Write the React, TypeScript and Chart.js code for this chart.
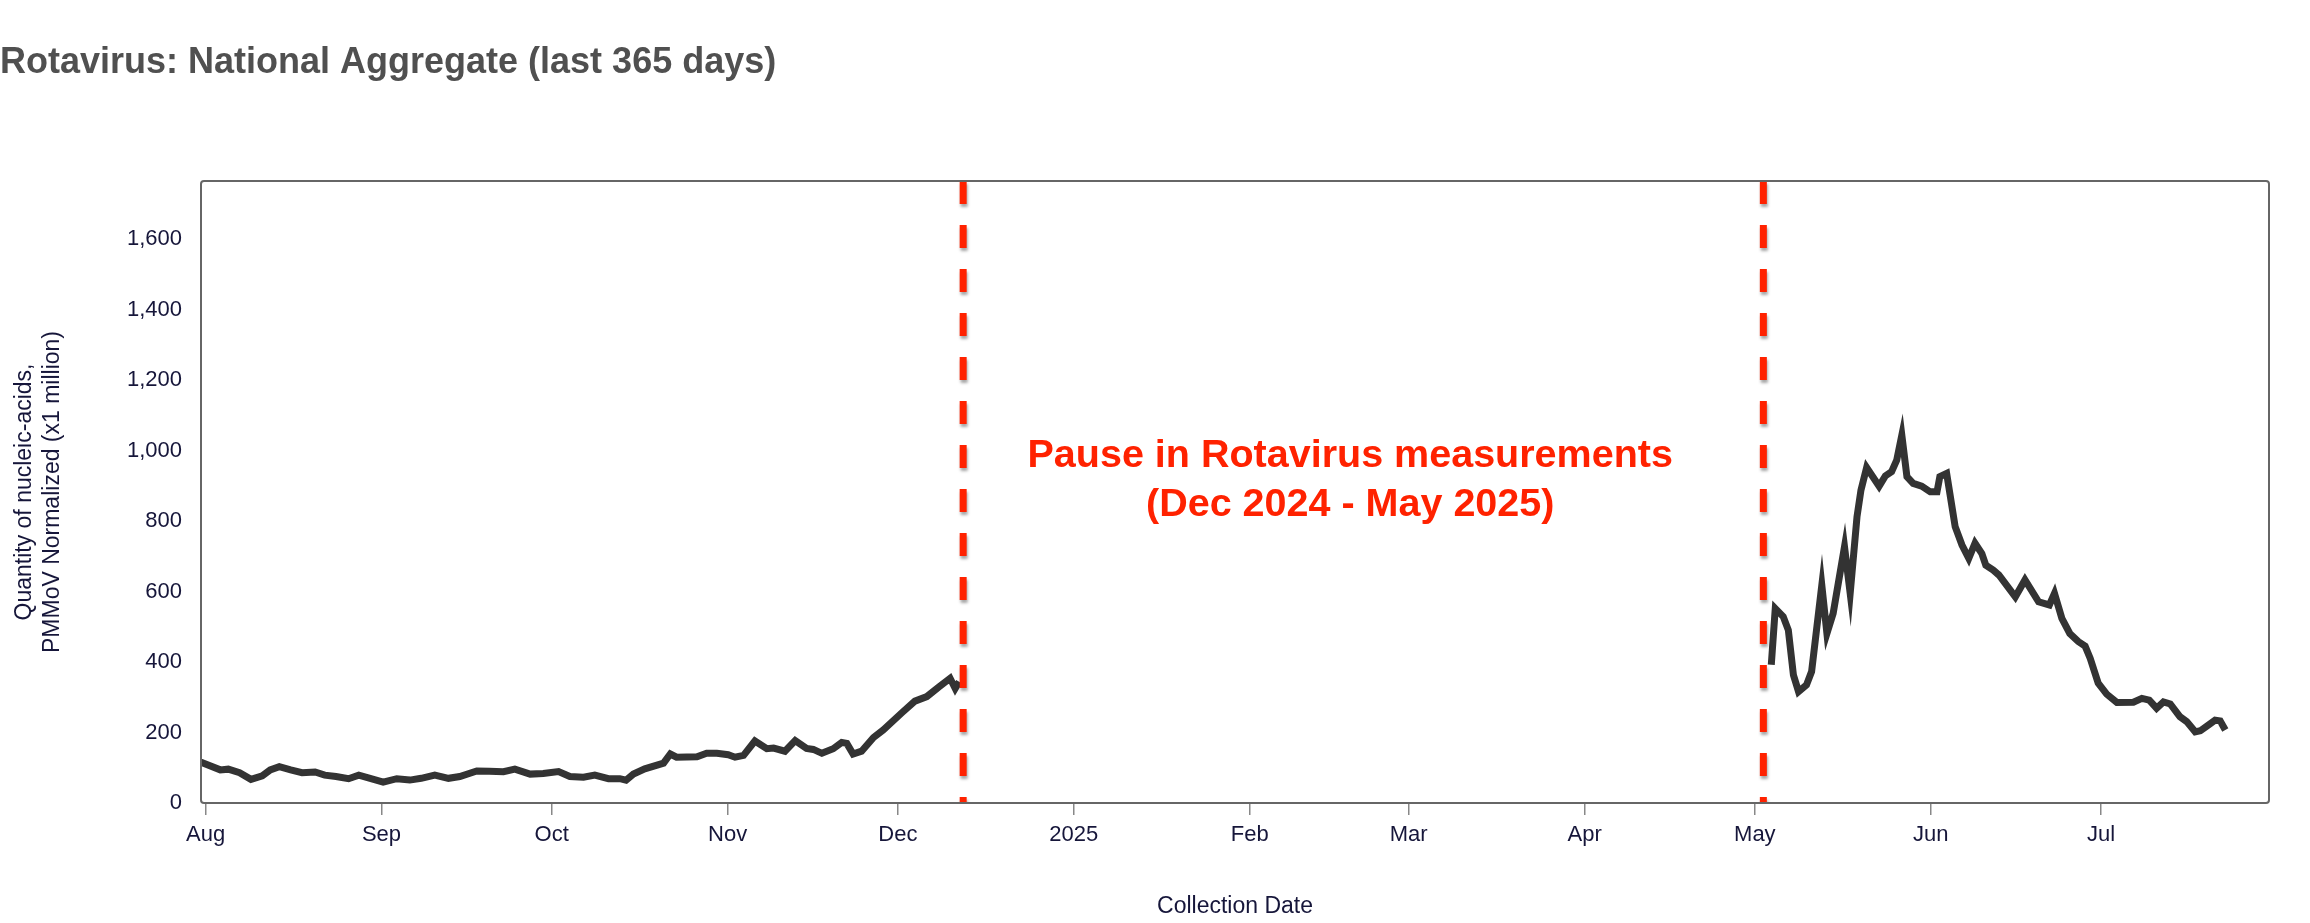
import React, { useEffect, useRef } from 'react';
import { Chart, registerables } from 'chart.js';

Chart.register(...registerables);

// Days counted from 1 Aug 2024 (day 0)
const MONTH_TICK_DAYS = [0, 31, 61, 92, 122, 153, 184, 212, 243, 273, 304, 334];
const MONTH_TICK_LABELS = ['Aug', 'Sep', 'Oct', 'Nov', 'Dec', '2025', 'Feb', 'Mar', 'Apr', 'May', 'Jun', 'Jul'];
const Y_TICKS = [0, 200, 400, 600, 800, 1000, 1200, 1400, 1600];

const X_MIN = -0.8;
const X_MAX = 363.6;
const Y_MAX = 1765;

const SEG1_DAYS = [
  -1, 2.6, 4, 6, 8, 10, 11.4, 13, 15, 17, 19.3, 21, 23, 25.2, 27, 29, 31.3, 33.7, 36, 38,
  40.4, 42.8, 44.8, 47.8, 50, 52.5, 54.5, 57.2, 59.5, 62.2, 64.2, 66.6, 68.6, 71, 73, 74.1,
  75.4, 77.4, 80.7, 81.9, 83, 86.6, 88.3, 90.1, 92.1, 93.3, 94.8, 96.8, 98.9, 100.1, 102.1,
  103.9, 105.9, 107.1, 108.6, 110.6, 112.1, 113, 114.1, 115.6, 117.7, 119.4, 122.7, 125,
  127.1, 129.1, 131.2, 132.1, 132.8,
];
const SEG1_VALUES = [
  117, 94, 96, 86, 67, 77, 94, 103, 94, 86, 88, 79, 75, 69, 79, 70, 59, 69, 65, 70,
  79, 70, 75, 91, 90, 89, 96, 82, 84, 89, 75, 73, 79, 69, 69, 65,
  82, 97, 113, 139, 130, 131, 141, 141, 137, 130, 135, 176, 154, 156, 147,
  177, 155, 152, 141, 154, 172, 169, 139, 147, 186, 207, 256, 289,
  302, 328, 354, 325, 344,
];

const SEG2_DAYS = [
  275.9, 276.6, 278, 278.9, 279.8, 280.7, 282.1, 283, 284.8, 285.7, 286.8, 288.8, 289.8,
  291, 291.7, 292.7, 294.9, 296, 297.1, 298, 298.9, 299.8, 300.9, 302.4, 303.9, 305.1,
  305.6, 306.8, 308.3, 309.5, 310.7, 311.8, 313, 313.7, 315, 316, 318.9, 320.6, 323,
  324.9, 325.8, 327.1, 328.5, 330, 331.2, 332.1, 333.5, 335, 336.8, 339.7, 341.2, 342.5,
  343.8, 345, 346.2, 347.9, 349.1, 350.6, 351.5, 352.9, 354.1, 355, 355.9,
];
const SEG2_VALUES = [
  392, 552, 529, 491, 363, 316, 335, 373, 618, 481, 538, 727, 595,
  812, 888, 952, 899, 928, 940, 973, 1044, 926, 907, 899, 883, 883,
  926, 935, 784, 732, 694, 737, 708, 675, 661, 647, 585, 633, 571,
  562, 595, 524, 481, 458, 445, 410, 340, 309, 285, 286, 297, 292,
  269, 287, 281, 245, 231, 202, 205, 221, 235, 233, 207,
];

const PAUSE_DAYS = [133.5, 274.5];
const NOTE_LINES = ['Pause in Rotavirus measurements', '(Dec 2024 - May 2025)'];
const NOTE_X = 201.7;
const NOTE_Y = [985, 846];

const TITLE = 'Rotavirus: National Aggregate (last 365 days)';
const Y_TITLE = ['Quantity of nucleic-acids,', 'PMMoV Normalized (x1 million)'];
const X_TITLE = 'Collection Date';

const FONT = '"Liberation Sans", Arial, Helvetica, sans-serif';
const TEXT_COLOR = '#16163a';
const RED = '#ff2200';

const frameAndNotes = {
  id: 'frameAndNotes',
  beforeDatasetDraw(chart: any, args: any) {
    const ds = chart.data.datasets[args.index];
    if (ds && ds.isPause) {
      const ctx = chart.ctx;
      ctx.save();
      ctx.shadowColor = 'rgba(0,0,0,0.35)';
      ctx.shadowBlur = 3;
      ctx.shadowOffsetX = 1;
      ctx.shadowOffsetY = 3;
    }
  },
  afterDatasetDraw(chart: any, args: any) {
    const ds = chart.data.datasets[args.index];
    if (ds && ds.isPause) chart.ctx.restore();
  },
  afterDraw(chart: any) {
    const { ctx, chartArea, scales } = chart;
    const { left, top, right, bottom } = chartArea;
    ctx.save();
    ctx.strokeStyle = '#666';
    ctx.lineWidth = 2;
    ctx.beginPath();
    if ((ctx as any).roundRect) (ctx as any).roundRect(left, top, right - left, bottom - top, 3);
    else ctx.rect(left, top, right - left, bottom - top);
    ctx.stroke();
    ctx.fillStyle = RED;
    ctx.font = `bold 39.5px ${FONT}`;
    ctx.textAlign = 'center';
    ctx.textBaseline = 'middle';
    const x = scales.x.getPixelForValue(NOTE_X);
    NOTE_LINES.forEach((t, i) => {
      ctx.fillText(t, x, scales.y.getPixelForValue(NOTE_Y[i]));
    });
    ctx.restore();
  },
};

export default function App() {
  const ref = useRef<HTMLCanvasElement | null>(null);

  useEffect(() => {
    if (!ref.current) return;
    const seg1 = SEG1_DAYS.map((d, i) => ({ x: d, y: SEG1_VALUES[i] }));
    const seg2 = SEG2_DAYS.map((d, i) => ({ x: d, y: SEG2_VALUES[i] }));
    const lineStyle = {
      borderColor: '#333333',
      borderWidth: 7,
      pointRadius: 0,
      pointHoverRadius: 0,
      tension: 0,
      fill: false,
      order: 1,
    };
    const pauseSets = PAUSE_DAYS.map((d) => ({
      data: [{ x: d, y: Y_MAX }, { x: d, y: 0 }],
      borderColor: RED,
      borderWidth: 7,
      borderDash: [23, 21],
      borderCapStyle: 'butt',
      pointRadius: 0,
      pointHoverRadius: 0,
      fill: false,
      order: 0,
      isPause: true,
    }));

    const chart = new Chart(ref.current, {
      type: 'line',
      data: {
        datasets: [
          { data: seg1, ...lineStyle },
          { data: seg2, ...lineStyle },
          ...pauseSets,
        ] as any,
      },
      options: {
        responsive: false,
        animation: false,
        events: [],
        layout: { padding: { left: 0, right: 41, top: 0, bottom: 0 } },
        plugins: {
          legend: { display: false },
          tooltip: { enabled: false },
          title: {
            display: true,
            text: TITLE,
            align: 'start',
            color: '#505050',
            font: { family: FONT, size: 36, weight: 'bold', lineHeight: 1.2 },
            padding: { top: 41, bottom: 96.8 },
          },
        },
        scales: {
          x: {
            type: 'linear',
            min: X_MIN,
            max: X_MAX,
            afterFit: (s: any) => { s.height = 120; },
            afterBuildTicks: (s: any) => { s.ticks = MONTH_TICK_DAYS.map((v) => ({ value: v })); },
            grid: {
              display: true,
              drawOnChartArea: false,
              drawTicks: true,
              tickLength: 12,
              color: '#888',
              lineWidth: 1.5,
            },
            border: { display: false },
            ticks: {
              autoSkip: false,
              maxRotation: 0,
              padding: 7,
              color: TEXT_COLOR,
              font: { family: FONT, size: 22 },
              callback: (_v: any, i: number) => MONTH_TICK_LABELS[i],
            },
            title: {
              display: true,
              text: X_TITLE,
              color: TEXT_COLOR,
              font: { family: FONT, size: 23, lineHeight: 1.2 },
              padding: { top: 0, bottom: 3 },
            },
          },
          y: {
            type: 'linear',
            min: 0,
            max: Y_MAX,
            afterFit: (s: any) => { s.width = 201; },
            afterBuildTicks: (s: any) => { s.ticks = Y_TICKS.map((v) => ({ value: v })); },
            grid: { display: false, drawTicks: false },
            border: { display: false },
            ticks: {
              autoSkip: false,
              padding: 19,
              color: TEXT_COLOR,
              font: { family: FONT, size: 22 },
              callback: (v: any) => Number(v).toLocaleString('en-US'),
            },
            title: {
              display: true,
              text: Y_TITLE,
              color: TEXT_COLOR,
              font: { family: FONT, size: 23, lineHeight: 1.22 },
              padding: { top: 11, bottom: 0 },
            },
          },
        },
      } as any,
      plugins: [frameAndNotes],
    });
    return () => chart.destroy();
  }, []);

  return (
    <canvas
      ref={ref}
      width={2310}
      height={923}
      style={{ position: 'absolute', left: 0, top: 0, width: 2310, height: 923, display: 'block' }}
    />
  );
}
